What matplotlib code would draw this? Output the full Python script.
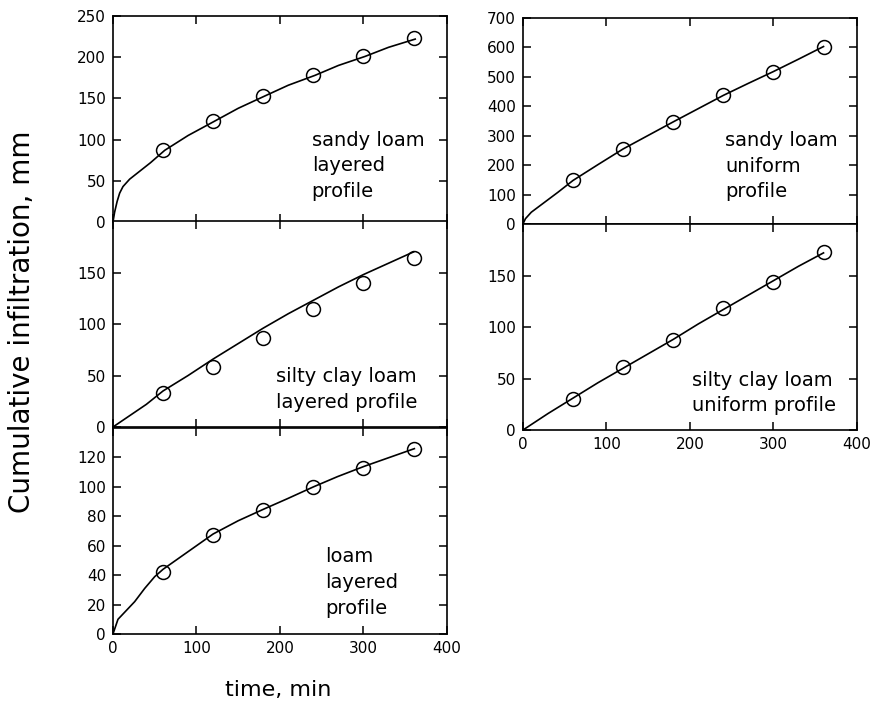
import numpy as np
import matplotlib
matplotlib.use('Agg')
import matplotlib.pyplot as plt

plt.rcParams['font.family'] = 'DejaVu Sans'

# measured points (time, min ; cumulative infiltration, mm)
obs_t = [60, 120, 180, 240, 300, 360]

sl_layer_obs = [87, 122, 153, 179, 202, 223]
sl_layer_t = [0, 2, 5, 8, 12, 20, 30, 45, 62, 90, 121, 150, 182, 210, 242, 270, 302, 330, 362]
sl_layer_fit = [0, 12, 25, 35, 43, 52, 60, 72, 87, 105, 122, 138, 153, 166, 178, 190, 201, 212, 222]

scl_layer_obs = [33, 58, 86, 115, 140, 164]
scl_layer_t = [0, 20, 40, 60, 90, 120, 150, 180, 210, 240, 270, 300, 330, 360]
scl_layer_fit = [0, 11, 22, 35, 50, 66, 81, 96, 110, 123, 136, 148, 159, 170]

loam_layer_obs = [42, 67, 84, 100, 113, 126]
loam_layer_t = [0, 6, 16, 26, 38, 50, 60, 90, 120, 150, 181, 209, 240, 269, 301, 331, 361]
loam_layer_fit = [0, 10, 16, 22, 31, 39, 44, 56, 68, 77, 85, 92, 100, 107, 114, 120, 126]

sl_unif_obs = [150, 255, 347, 437, 518, 603]
sl_unif_t = [0, 3, 10, 26, 42, 60, 90, 120, 150, 180, 210, 240, 270, 300, 330, 360]
sl_unif_fit = [0, 18, 40, 74, 108, 148, 202, 255, 301, 347, 392, 437, 478, 518, 560, 603]

scl_unif_obs = [30, 61, 87, 118, 144, 173]
scl_unif_t = [0, 30, 60, 90, 120, 150, 180, 210, 240, 270, 300, 330, 360]
scl_unif_fit = [0, 16, 31, 46, 60, 74, 88, 103, 117, 131, 145, 159, 172]

fig = plt.figure(figsize=(8.77, 7.03), dpi=100)

W = 0.3808
H = 0.293
ax1 = fig.add_axes([0.1288, 0.6842, W, H])
ax2 = fig.add_axes([0.1288, 0.3926, W, H])
ax3 = fig.add_axes([0.1288, 0.0981, W, H])
ax4 = fig.add_axes([0.5963, 0.6814, W, H])
ax5 = fig.add_axes([0.5963, 0.3883, W, H])

panels = [
    (ax1, sl_layer_t, sl_layer_fit, sl_layer_obs, (0, 250), np.arange(0, 251, 50),
     'sandy loam\nlayered\nprofile', (238, 68), False),
    (ax2, scl_layer_t, scl_layer_fit, scl_layer_obs, (0, 200), np.arange(0, 151, 50),
     'silty clay loam\nlayered profile', (195, 36.5), False),
    (ax3, loam_layer_t, loam_layer_fit, loam_layer_obs, (0, 140), np.arange(0, 121, 20),
     'loam\nlayered\nprofile', (254, 35), True),
    (ax4, sl_unif_t, sl_unif_fit, sl_unif_obs, (0, 700), np.arange(0, 701, 100),
     'sandy loam\nuniform\nprofile', (242, 197), False),
    (ax5, scl_unif_t, scl_unif_fit, scl_unif_obs, (0, 200), np.arange(0, 151, 50),
     'silty clay loam\nuniform profile', (202, 36), True),
]

for ax, t, fit, obs, ylim, yt, label, pos, show_x in panels:
    ax.plot(t, fit, color='black', lw=1.2)
    ax.plot(obs_t, obs, 'o', ms=10, mfc='none', mec='black', mew=1.1)
    ax.set_xlim(0, 400)
    ax.set_ylim(*ylim)
    ax.set_xticks([0, 100, 200, 300, 400])
    ax.set_yticks(yt)
    ax.tick_params(direction='in', top=True, right=True, length=6, width=1.1,
                   labelsize=11, pad=5)
    if not show_x:
        ax.tick_params(labelbottom=False)
    for s in ax.spines.values():
        s.set_linewidth(1.2)
    ax.text(pos[0], pos[1], label, fontsize=14, ha='left', va='center',
            linespacing=1.45)

fig.text(0.025, 0.542, 'Cumulative infiltration, mm', rotation=90,
         ha='center', va='center', fontsize=20)
fig.text(0.317, 0.018, 'time, min', ha='center', va='center', fontsize=16)

fig.savefig('out.png', dpi=100)
